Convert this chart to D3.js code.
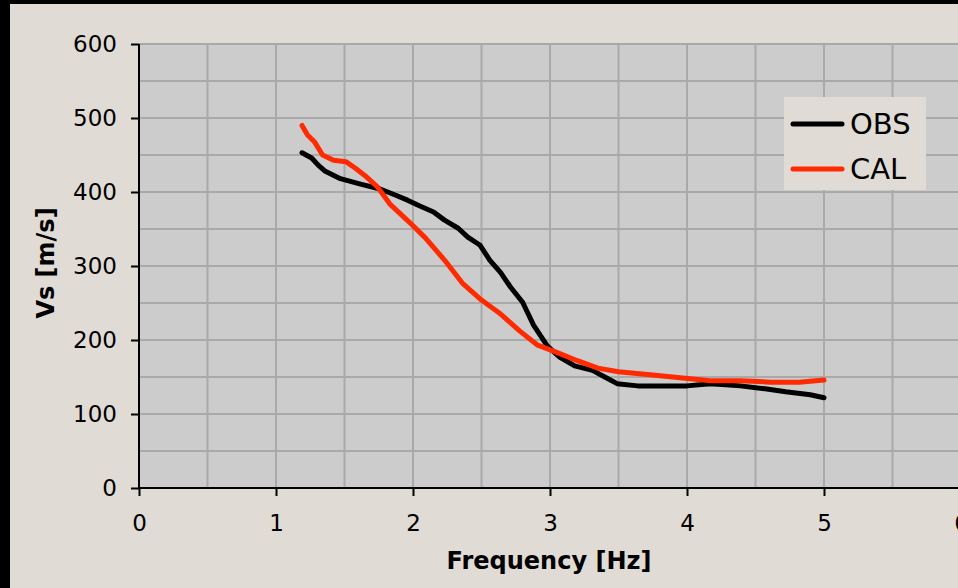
<!DOCTYPE html>
<html>
<head>
<meta charset="utf-8">
<script src="https://cdn.jsdelivr.net/npm/d3@7"></script>
<style>
  html, body { margin: 0; padding: 0; background: #000; }
  svg { display: block; }
</style>
</head>
<body>
<svg id="chart" width="958" height="588"></svg>
<script>
// Dispersion curves: observed vs calculated shear-wave velocity
const obsFreq = [1.19, 1.26, 1.31, 1.36, 1.47, 1.61, 1.76, 1.87, 1.96, 2.05, 2.15, 2.23, 2.33, 2.40, 2.49, 2.56, 2.64, 2.71, 2.80, 2.88, 2.98, 3.07, 3.18, 3.31, 3.40, 3.49, 3.64, 4.00, 4.17, 4.39, 4.57, 4.72, 4.90, 5.00];
const obsVs   = [453, 446, 436, 428, 418, 411, 404, 396, 389, 381, 373, 362, 351, 339, 328, 308, 291, 272, 251, 220, 192, 177, 165, 159, 150, 141, 138, 138, 141, 138, 134, 130, 126, 122];

const calFreq = [1.19, 1.23, 1.28, 1.34, 1.42, 1.51, 1.58, 1.65, 1.74, 1.83, 1.98, 2.09, 2.23, 2.36, 2.50, 2.64, 2.78, 2.91, 3.04, 3.20, 3.35, 3.50, 3.73, 3.95, 4.17, 4.39, 4.61, 4.82, 5.00];
const calVs   = [490, 477, 468, 450, 443, 441, 432, 422, 407, 384, 358, 338, 308, 277, 254, 235, 212, 193, 184, 172, 162, 157, 153, 149, 145, 145, 143, 143, 146];

const xTicks = [0, 1, 2, 3, 4, 5, 6];
const yTicks = [0, 100, 200, 300, 400, 500, 600];
const seriesNames = ["OBS", "CAL"];
const seriesColors = ["#000000", "#ff2a00"];

const svg = d3.select("#chart");
const W = 958, H = 588;

// page background with dark frame on left and top
svg.append("rect").attr("x", 10).attr("y", 4).attr("width", W - 10).attr("height", H - 4).attr("fill", "#e0dbd5");

const x = d3.scaleLinear().domain([0, 6]).range([139, 961]);
const y = d3.scaleLinear().domain([0, 600]).range([488, 44]);

const plot = svg.append("g");
plot.append("rect")
  .attr("x", x(0)).attr("y", y(600))
  .attr("width", x(6) - x(0)).attr("height", y(0) - y(600))
  .attr("fill", "#cccccc");

// grid
const gx = d3.range(0.5, 6.01, 0.5);
const gy = d3.range(50, 600.1, 50);
plot.selectAll(".gv").data(gx).join("line")
  .attr("x1", d => x(d)).attr("x2", d => x(d))
  .attr("y1", y(0)).attr("y2", y(600))
  .attr("stroke", "#a9a9a9").attr("stroke-width", 2);
plot.selectAll(".gh").data(gy).join("line")
  .attr("x1", x(0)).attr("x2", x(6))
  .attr("y1", d => y(d)).attr("y2", d => y(d))
  .attr("stroke", "#a9a9a9").attr("stroke-width", 2);

const font = "'DejaVu Sans', Verdana, sans-serif";

// axes
const xAxis = svg.append("g").attr("transform", `translate(0,${y(0)})`)
  .call(d3.axisBottom(x).tickValues(xTicks).tickSize(8).tickPadding(19).tickFormat(d3.format("d")));
const yAxis = svg.append("g").attr("transform", `translate(${x(0)},0)`)
  .call(d3.axisLeft(y).tickValues(yTicks).tickSize(8).tickPadding(14).tickFormat(d3.format("d")));
[xAxis, yAxis].forEach(a => {
  a.select(".domain").attr("stroke", "#000").attr("stroke-width", 2);
  a.selectAll(".tick line").attr("stroke", "#000").attr("stroke-width", 2);
  a.selectAll(".tick text").attr("fill", "#000").style("font-family", font).style("font-size", "23px");
});
yAxis.select(".domain").attr("d", `M0,${y(600)}V${y(0)}`);
xAxis.select(".domain").attr("d", `M${x(0)},0H${x(6)}`);

// lines
const line = d3.line().x(d => x(d[0])).y(d => y(d[1])).curve(d3.curveLinear);
const seriesData = [
  d3.zip(obsFreq, obsVs),
  d3.zip(calFreq, calVs)
];
seriesData.forEach((pts, i) => {
  svg.append("path").datum(pts)
    .attr("d", line)
    .attr("fill", "none")
    .attr("stroke", seriesColors[i])
    .attr("stroke-width", 5)
    .attr("stroke-linejoin", "round")
    .attr("stroke-linecap", "round");
});

// axis titles
svg.append("text").attr("x", 549).attr("y", 569)
  .attr("text-anchor", "middle")
  .style("font-family", font).style("font-weight", "bold").style("font-size", "24px")
  .text("Frequency [Hz]");
svg.append("text")
  .attr("transform", "translate(54,263) rotate(-90)")
  .attr("text-anchor", "middle")
  .style("font-family", font).style("font-weight", "bold").style("font-size", "24px")
  .text("Vs [m/s]");

// legend
const lg = svg.append("g").attr("transform", "translate(784,97)");
lg.append("rect").attr("width", 142).attr("height", 93).attr("fill", "#e0dbd5");
seriesNames.forEach((name, i) => {
  const cy = 27 + i * 45;
  lg.append("line").attr("x1", 9).attr("x2", 58).attr("y1", cy).attr("y2", cy)
    .attr("stroke", seriesColors[i]).attr("stroke-width", 5).attr("stroke-linecap", "round");
  lg.append("text").attr("x", 66).attr("y", cy + 10)
    .style("font-family", font).style("font-size", "29px").attr("fill", "#000")
    .text(name);
});
</script>
</body>
</html>
